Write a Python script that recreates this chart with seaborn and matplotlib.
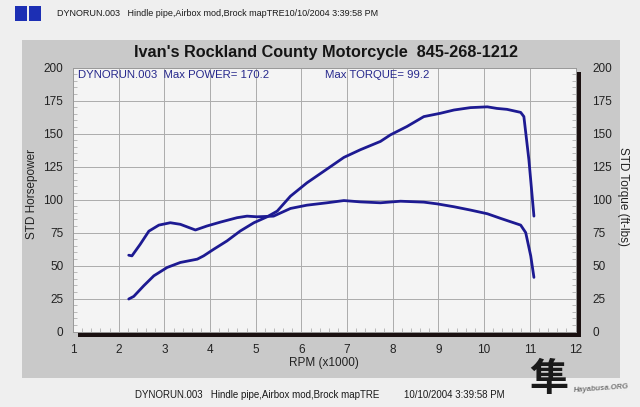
import matplotlib
matplotlib.use("Agg")
import matplotlib.pyplot as plt
import seaborn as sns
import pandas as pd
from matplotlib.patches import Rectangle
from matplotlib.ticker import MultipleLocator

# ---- data (read from the dyno sheet) ----
power_rpm = [2.22, 2.33, 2.55, 2.77, 3.06, 3.35, 3.72, 3.86, 4.08, 4.37, 4.66, 4.96,
             5.25, 5.47, 5.76, 6.12, 6.49, 6.93, 7.29, 7.73, 7.95, 8.31, 8.68, 9.04,
             9.34, 9.70, 10.07, 10.28, 10.50, 10.80, 10.87, 10.98, 11.09]
power_hp = [24.6, 26.6, 34.7, 42.2, 48.5, 52.3, 54.8, 57.3, 62.3, 68.6, 76.1, 82.4,
            86.9, 91.2, 102.5, 112.6, 121.4, 131.9, 137.7, 144.0, 149.0, 155.3, 162.8, 165.3,
            167.8, 169.6, 170.2, 169.0, 168.3, 166.0, 162.8, 130.0, 87.4]

torque_rpm = [2.22, 2.29, 2.47, 2.66, 2.88, 3.13, 3.35, 3.68, 3.93, 4.23, 4.59, 4.81,
              5.03, 5.39, 5.76, 6.12, 6.56, 6.93, 7.29, 7.73, 8.17, 8.68, 8.97, 9.34,
              9.70, 10.07, 10.36, 10.80, 10.91, 11.02, 11.09]
torque_ftlb = [57.8, 57.3, 66.0, 76.0, 80.6, 82.4, 81.2, 76.9, 79.9, 82.9, 86.2, 87.4,
               86.9, 87.4, 93.2, 95.7, 97.5, 99.2, 98.2, 97.5, 98.7, 98.0, 96.7, 94.5,
               92.0, 89.2, 85.7, 80.6, 74.9, 57.3, 41.0]

x_ticks = list(range(1, 13))
y_ticks = [0, 25, 50, 75, 100, 125, 150, 175, 200]

title = "Ivan's Rockland County Motorcycle  845-268-1212"
header = "DYNORUN.003   Hindle pipe,Airbox mod,Brock mapTRE10/10/2004 3:39:58 PM"
footer_run = "DYNORUN.003   Hindle pipe,Airbox mod,Brock mapTRE"
footer_date = "10/10/2004 3:39:58 PM"
note_power = "DYNORUN.003  Max POWER= 170.2"
note_torque = "Max TORQUE= 99.2"

power_df = pd.DataFrame({"rpm": power_rpm, "hp": power_hp})
torque_df = pd.DataFrame({"rpm": torque_rpm, "tq": torque_ftlb})

sns.set_style("white")
plt.rcParams["font.family"] = ["Liberation Sans", "DejaVu Sans"]

W, H = 640, 407
fig = plt.figure(figsize=(6.4, 4.07), dpi=100)
fig.patch.set_facecolor("#efefef")

def fx(px):
    return px / W

def fy(py):
    return 1 - py / H

# grey panel
fig.patches.append(Rectangle((fx(22), fy(378)), fx(620) - fx(22), fy(40) - fy(378),
                             transform=fig.transFigure, facecolor="#c9c9c9",
                             edgecolor="none", zorder=0))
# drop shadow of plot frame
fig.patches.append(Rectangle((fx(78), fy(336.5)), fx(581) - fx(78), fy(331.5) - fy(336.5),
                             transform=fig.transFigure, facecolor="#1a1010",
                             edgecolor="none", zorder=1))
fig.patches.append(Rectangle((fx(575.5), fy(336.5)), fx(581) - fx(575.5), fy(72) - fy(336.5),
                             transform=fig.transFigure, facecolor="#1a1010",
                             edgecolor="none", zorder=1))

ax_left, ax_right = 73, 575.5
ax = fig.add_axes([fx(ax_left), fy(331.5), fx(ax_right) - fx(ax_left), fy(67.5) - fy(331.5)])
ax.set_facecolor("#f4f4f4")
ax.set_zorder(2)

line_color = "#1d1a92"
sns.lineplot(data=power_df, x="rpm", y="hp", ax=ax, color=line_color, lw=2.0)
ax2 = ax.twinx()
sns.lineplot(data=torque_df, x="rpm", y="tq", ax=ax2, color=line_color, lw=2.0)

for a in (ax, ax2):
    a.set_xlim(1, 12)
    a.set_ylim(0, 200)
    a.set_yticks(y_ticks)
    a.yaxis.set_minor_locator(MultipleLocator(5))
    for s in a.spines.values():
        s.set_color("#9a9a9a")
        s.set_linewidth(0.6)

ax.set_xticks(x_ticks)
ax.xaxis.set_minor_locator(MultipleLocator(0.2))
ax.grid(True, which="major", color="#ababab", lw=0.7)
ax.set_axisbelow(True)

tick_kw = dict(labelsize=8.5, labelcolor="#222222")
ax.tick_params(axis="y", which="major", length=0, pad=7, **tick_kw)
ax.tick_params(axis="x", which="major", length=0, pad=9, **tick_kw)
ax.tick_params(axis="y", which="minor", direction="in", length=3, color="#b0b0b0", left=True)
ax.tick_params(axis="x", which="minor", direction="in", length=3, color="#b0b0b0", bottom=True)
ax2.tick_params(axis="y", which="major", length=0, pad=12, **tick_kw)
ax2.tick_params(axis="y", which="minor", direction="in", length=3, color="#b0b0b0", right=True)

aw = ax_right - ax_left
ax.set_xlabel("RPM (x1000)", fontsize=8.5, color="#222222", labelpad=0.5)
ax.set_ylabel("STD Horsepower", fontsize=8.5, color="#222222", va="center")
ax.yaxis.set_label_coords((32 - ax_left) / aw, 0.52)
ax2.set_ylabel("STD Torque (ft-lbs)", fontsize=8.5, color="#222222", rotation=270, va="center")
ax2.yaxis.set_label_coords((623 - ax_left) / aw, 0.51)

ax.text(fx(78), fy(75), note_power, transform=fig.transFigure, fontsize=8.2,
        color="#26288c", va="center", ha="left", zorder=5)
ax.text(fx(325), fy(75), note_torque, transform=fig.transFigure, fontsize=8.2,
        color="#26288c", va="center", ha="left", zorder=5)

fig.text(fx(326), fy(52), title, ha="center", va="center", fontsize=11.7,
         fontweight="bold", color="#151515")

# header with the two blue squares
fig.patches.append(Rectangle((fx(15), fy(21)), fx(12), fy(6) - fy(21), transform=fig.transFigure,
                             facecolor="#1c2fb4", edgecolor="none"))
fig.patches.append(Rectangle((fx(29), fy(21)), fx(12), fy(6) - fy(21), transform=fig.transFigure,
                             facecolor="#1c2fb4", edgecolor="none"))
fig.text(fx(57), fy(13), header, ha="left", va="center", fontsize=6.5, color="#1a1a1a")
fig.text(fx(135), fy(395), footer_run, ha="left", va="center", fontsize=7.0, color="#1a1a1a")
fig.text(fx(404), fy(395), footer_date, ha="left", va="center", fontsize=7.0, color="#1a1a1a")

# logo
fig.text(fx(549), fy(380), "隼", ha="center", va="center", fontsize=28, color="#1a1a1a",
         family=["Noto Sans CJK JP", "DejaVu Sans"], fontweight="bold", style="italic")
fig.text(fx(573), fy(389), "Hayabusa.ORG", ha="left", va="center", fontsize=5.5,
         color="#777777", style="italic", fontweight="bold", rotation=4)

fig.savefig("out.png", dpi=100, facecolor=fig.get_facecolor())
